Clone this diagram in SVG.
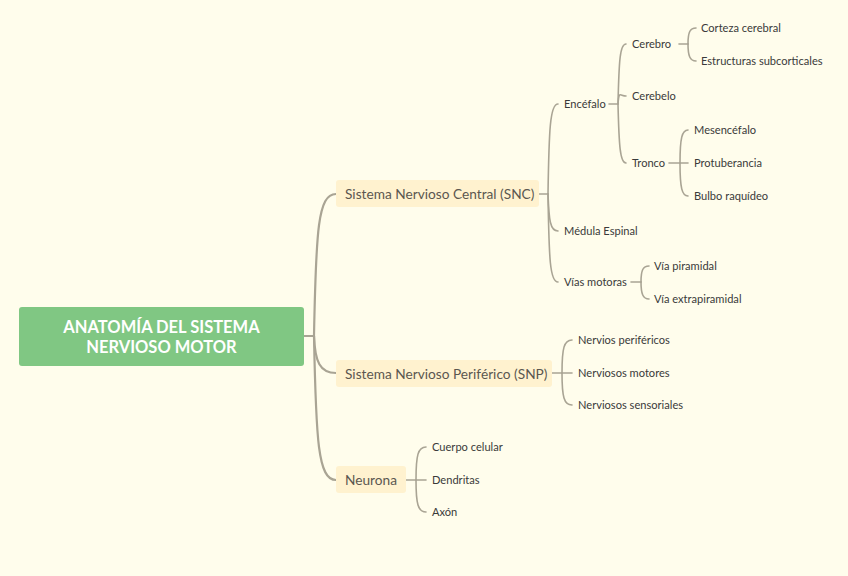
<svg xmlns="http://www.w3.org/2000/svg" width="848" height="576" viewBox="0 0 848 576">
<style>
.bg{fill:#FFFDEC}
.root{fill:#80C783}
.rootT{font-family:Lato,"Liberation Sans",sans-serif;font-weight:bold;font-size:16.5px;fill:#fff;text-anchor:middle}
.l1{fill:#FFF2CF}
.l1T{font-family:Lato,"Liberation Sans",sans-serif;font-size:13.7px;fill:#5b5750}
.lf{font-family:Lato,"Liberation Sans",sans-serif;font-size:11.1px;fill:#3a3a3a}
.c{fill:none;stroke:#A9A494;stroke-width:1.6;stroke-linecap:round}
.c1{fill:none;stroke:#A9A494;stroke-width:2.2;stroke-linecap:round}
</style>
<rect class="bg" x="0" y="0" width="848" height="576"/>
<g id="connectors">
  <path class="c1" d="M304 336H314"/>
  <path class="c1" d="M314 336C316 230 318 194 336 194"/>
  <path class="c1" d="M314 336C315 362 320 373 336 373"/>
  <path class="c1" d="M314 336C316 440 318 480 336 480"/>
  <path class="c" d="M539 194H548"/>
  <path class="c" d="M548 194C549 130 550 104 558 104"/>
  <path class="c" d="M548 194C549 220 550 231 558 231"/>
  <path class="c" d="M548 194C549 260 550 282 558 282"/>
  <path class="c" d="M609 104H618"/>
  <path class="c" d="M618 104C619 60 620 44 626 44"/>
  <path class="c" d="M618 104C619 90 620 96 626 96"/>
  <path class="c" d="M618 104C619 145 620 163 626 163"/>
  <path class="c" d="M679 44H688"/>
  <path class="c" d="M688 44C688 32 690 28 696 28"/>
  <path class="c" d="M688 44C688 56 690 61 696 61"/>
  <path class="c" d="M669 163H688"/>
  <path class="c" d="M680 163C680 138 682 130 688 130"/>
  <path class="c" d="M680 163C680 188 682 196 688 196"/>
  <path class="c" d="M631 282H641"/>
  <path class="c" d="M641 282C641 270 643 266 649 266"/>
  <path class="c" d="M641 282C641 294 643 299 649 299"/>
  <path class="c" d="M552 373H572"/>
  <path class="c" d="M562 373C562 348 564 340 572 340"/>
  <path class="c" d="M562 373C562 397 564 405 572 405"/>
  <path class="c" d="M406 480H426"/>
  <path class="c" d="M416 480C416 455 418 447 426 447"/>
  <path class="c" d="M416 480C416 504 418 512 426 512"/>
</g>
<g id="root">
  <rect class="root" x="19" y="307" width="285" height="59" rx="3"/>
  <text class="rootT" x="161.5" y="333">ANATOMÍA DEL SISTEMA</text>
  <text class="rootT" x="161.5" y="353">NERVIOSO MOTOR</text>
</g>
<g id="snc">
  <rect class="l1" x="336" y="180" width="203" height="27" rx="3"/>
  <text class="l1T" x="345" y="199">Sistema Nervioso Central (SNC)</text>
</g>
<g id="snp">
  <rect class="l1" x="336" y="360" width="216" height="27" rx="3"/>
  <text class="l1T" x="345" y="379">Sistema Nervioso Periférico (SNP)</text>
</g>
<g id="neurona">
  <rect class="l1" x="336" y="466" width="70" height="27" rx="3"/>
  <text class="l1T" x="345" y="485">Neurona</text>
</g>
<g id="encefalo"><text class="lf" x="564" y="108">Encéfalo</text></g>
<g id="medula"><text class="lf" x="564" y="235">Médula Espinal</text></g>
<g id="vias"><text class="lf" x="564" y="286">Vías motoras</text></g>
<g id="cerebro"><text class="lf" x="632" y="48">Cerebro</text></g>
<g id="cerebelo"><text class="lf" x="632" y="100">Cerebelo</text></g>
<g id="tronco"><text class="lf" x="632" y="167">Tronco</text></g>
<g id="corteza"><text class="lf" x="701" y="32">Corteza cerebral</text></g>
<g id="estructuras"><text class="lf" x="701" y="65">Estructuras subcorticales</text></g>
<g id="mesencefalo"><text class="lf" x="694" y="134">Mesencéfalo</text></g>
<g id="protuberancia"><text class="lf" x="694" y="167">Protuberancia</text></g>
<g id="bulbo"><text class="lf" x="694" y="200">Bulbo raquídeo</text></g>
<g id="piramidal"><text class="lf" x="654" y="270">Vía piramidal</text></g>
<g id="extrapiramidal"><text class="lf" x="654" y="303">Vía extrapiramidal</text></g>
<g id="perifericos"><text class="lf" x="578" y="344">Nervios periféricos</text></g>
<g id="motores"><text class="lf" x="578" y="377">Nerviosos motores</text></g>
<g id="sensoriales"><text class="lf" x="578" y="409">Nerviosos sensoriales</text></g>
<g id="cuerpo"><text class="lf" x="432" y="451">Cuerpo celular</text></g>
<g id="dendritas"><text class="lf" x="432" y="484">Dendritas</text></g>
<g id="axon"><text class="lf" x="432" y="516">Axón</text></g>
</svg>
